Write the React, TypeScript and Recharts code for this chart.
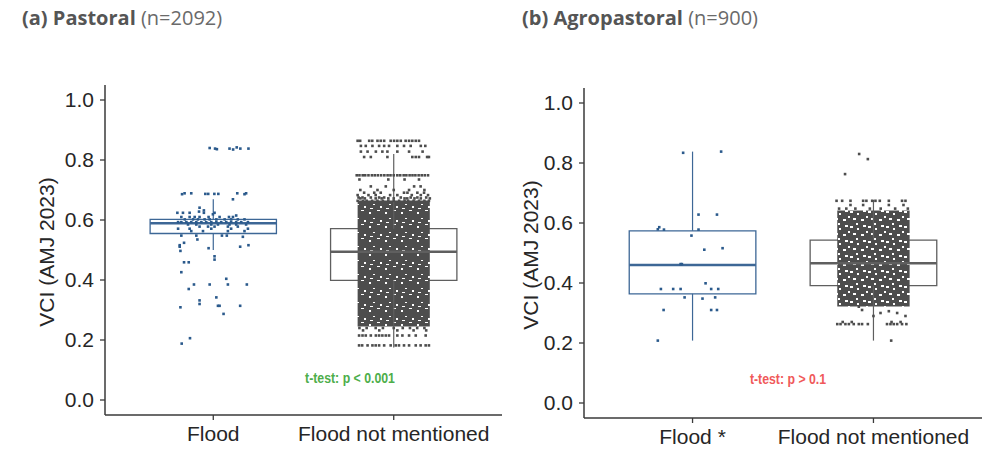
import React from 'react';
import { ComposedChart, Scatter, XAxis, YAxis, ReferenceArea, ReferenceLine } from 'recharts';

const labelsA = ['Flood', 'Flood not mentioned'];
const labelsB = ['Flood *', 'Flood not mentioned'];
const yTicks = [0, 0.2, 0.4, 0.6, 0.8, 1.0];

// box stats: [lower whisker, Q1, median, Q3, upper whisker]
const pastoralFloodBox = [0.5, 0.555, 0.589, 0.602, 0.669];
const pastoralOtherBox = [0.175, 0.399, 0.494, 0.571, 0.82];
const agroFloodBox = [0.208, 0.364, 0.46, 0.574, 0.838];
const agroOtherBox = [0.208, 0.391, 0.466, 0.543, 0.677];

// jittered points: [offset from category, VCI]
const pastoralFloodPts = [
  [-0.02, 0.84], [0.01, 0.838], [0.02, 0.836], [0.09, 0.838], [0.11, 0.835], [0.13, 0.842], [0.15, 0.838], [0.195, 0.838],
  [-0.173, 0.686], [-0.159, 0.689], [-0.122, 0.689], [-0.044, 0.687], [-0.028, 0.687], [0.006, 0.687], [0.028, 0.687],
  [0.109, 0.669], [0.133, 0.689], [0.173, 0.686], [0.182, 0.689],
  [-0.076, 0.641], [-0.052, 0.632], [-0.079, 0.628],
  [-0.199, 0.624], [-0.168, 0.624], [-0.131, 0.624], [-0.052, 0.624], [0.007, 0.624],
  [-0.002, 0.619], [0.127, 0.615],
  [-0.177, 0.61], [-0.131, 0.61], [-0.103, 0.61], [-0.076, 0.61], [-0.026, 0.61], [0.035, 0.61], [0.087, 0.61], [0.109, 0.61],
  [-0.158, 0.602], [-0.112, 0.602], [-0.085, 0.602], [-0.048, 0.602], [-0.02, 0.602], [0.017, 0.602], [0.063, 0.602],
  [0.099, 0.602], [0.136, 0.602], [0.173, 0.602],
  [-0.195, 0.593], [-0.177, 0.593], [-0.149, 0.593], [-0.122, 0.593], [-0.094, 0.593], [-0.066, 0.593], [-0.039, 0.593],
  [-0.011, 0.593], [0.017, 0.593], [0.044, 0.593], [0.072, 0.593], [0.099, 0.593], [0.127, 0.593], [0.155, 0.593], [0.192, 0.593],
  [-0.14, 0.585], [-0.094, 0.585], [-0.011, 0.585], [0.026, 0.585], [0.09, 0.585], [0.127, 0.585], [0.182, 0.585],
  [-0.076, 0.578], [-0.029, 0.578], [0.007, 0.578], [0.081, 0.578], [0.136, 0.578],
  [-0.195, 0.571], [-0.131, 0.571], [-0.011, 0.571], [0.099, 0.571], [0.192, 0.571],
  [-0.122, 0.563], [-0.057, 0.563], [0.081, 0.563], [0.173, 0.563],
  [-0.177, 0.548], [-0.094, 0.548], [0.048, 0.548], [0.075, 0.548], [0.164, 0.544],
  [-0.088, 0.535], [-0.162, 0.524], [-0.186, 0.516], [0.195, 0.516], [-0.186, 0.511], [0.149, 0.511],
  [-0.026, 0.506], [-0.182, 0.497], [0.007, 0.479], [0.007, 0.468], [-0.162, 0.459], [-0.136, 0.459],
  [-0.177, 0.426], [0.072, 0.404], [-0.107, 0.385], [-0.02, 0.385], [0.081, 0.385], [0.186, 0.385],
  [-0.136, 0.37], [0.017, 0.342], [-0.076, 0.332], [-0.076, 0.32], [0.026, 0.314], [0.035, 0.314], [0.149, 0.314],
  [-0.182, 0.309], [0.057, 0.287], [-0.129, 0.206], [-0.175, 0.188],
];

const pastoralOtherPts = [
  [-0.2, 0.864], [-0.186, 0.864], [-0.136, 0.864], [-0.119, 0.864], [-0.09, 0.864], [-0.072, 0.864], [-0.053, 0.864],
  [-0.017, 0.864], [0.002, 0.864], [0.02, 0.864], [0.039, 0.864], [0.066, 0.864], [0.085, 0.864], [0.103, 0.864], [0.122, 0.864], [0.14, 0.864],
  [-0.182, 0.847], [-0.155, 0.847], [-0.118, 0.847], [-0.081, 0.847], [-0.053, 0.847], [-0.026, 0.847], [0.02, 0.847],
  [0.057, 0.847], [0.094, 0.847], [0.15, 0.847], [0.175, 0.847],
  [-0.182, 0.828], [-0.145, 0.828], [-0.099, 0.828], [-0.063, 0.828], [-0.035, 0.828], [0.02, 0.828], [0.085, 0.828], [0.16, 0.828],
  [-0.164, 0.81], [-0.127, 0.81], [-0.035, 0.81], [0.103, 0.81], [0.122, 0.81], [0.14, 0.81], [0.185, 0.81], [0.195, 0.81],
  [-0.205, 0.749], [-0.19, 0.749], [-0.172, 0.749], [-0.158, 0.749], [-0.14, 0.749], [-0.121, 0.749], [-0.105, 0.749],
  [-0.088, 0.749], [-0.07, 0.749], [-0.052, 0.749], [-0.034, 0.749], [-0.018, 0.749], [0.0, 0.749], [0.02, 0.749],
  [0.036, 0.749], [0.055, 0.749], [0.07, 0.749], [0.088, 0.749], [0.104, 0.749], [0.12, 0.749], [0.138, 0.749],
  [0.155, 0.749], [0.172, 0.749], [0.19, 0.749],
  [-0.19, 0.735], [-0.03, 0.735], [0.06, 0.735], [0.14, 0.735],
  [-0.127, 0.712], [-0.044, 0.712], [0.113, 0.712], [0.149, 0.712],
  [-0.185, 0.7], [-0.09, 0.7], [0.0, 0.7], [0.085, 0.7], [0.17, 0.7],
  [-0.164, 0.691], [-0.108, 0.691], [-0.072, 0.691], [0.057, 0.691], [0.076, 0.691], [0.131, 0.691], [0.168, 0.691],
  [-0.2, 0.683], [-0.14, 0.683], [-0.1, 0.683], [-0.02, 0.683], [0.02, 0.683], [0.1, 0.683], [0.15, 0.683], [0.19, 0.683],
  [-0.195, 0.675], [-0.173, 0.675], [-0.127, 0.675], [-0.081, 0.675], [-0.053, 0.675], [0.039, 0.675], [0.094, 0.675], [0.131, 0.675], [0.18, 0.675],
  [-0.185, 0.672], [-0.16, 0.672], [-0.1, 0.672], [-0.067, 0.672], [-0.03, 0.672], [0.0, 0.672], [0.06, 0.672],
  [0.075, 0.672], [0.115, 0.672], [0.15, 0.672], [0.2, 0.672],
  [-0.2, 0.664], [-0.17, 0.664], [-0.15, 0.664], [-0.12, 0.664], [-0.09, 0.664], [-0.06, 0.664], [-0.03, 0.664], [0.0, 0.664],
  [0.03, 0.664], [0.06, 0.664], [0.08, 0.664], [0.11, 0.664], [0.14, 0.664], [0.17, 0.664], [0.195, 0.664],
  [-0.19, 0.24], [-0.15, 0.24], [-0.1, 0.24], [-0.06, 0.24], [0.0, 0.24], [0.05, 0.24], [0.09, 0.24], [0.13, 0.24], [0.17, 0.24],
  [-0.17, 0.232], [-0.08, 0.232], [0.02, 0.232], [0.11, 0.232], [0.18, 0.232],
  [-0.192, 0.215], [-0.173, 0.215], [-0.155, 0.215], [-0.127, 0.215], [-0.099, 0.215], [-0.081, 0.215], [-0.063, 0.215],
  [-0.044, 0.215], [-0.026, 0.215], [0.02, 0.215], [0.048, 0.215], [0.085, 0.215], [0.122, 0.215], [0.177, 0.215],
  [-0.192, 0.182], [-0.175, 0.182], [-0.145, 0.182], [-0.118, 0.182], [-0.1, 0.182], [-0.081, 0.182], [-0.053, 0.182],
  [-0.017, 0.182], [0.011, 0.182], [0.029, 0.182], [0.057, 0.182], [0.085, 0.182], [0.122, 0.182], [0.149, 0.182], [0.177, 0.182], [0.195, 0.182],
];

// where the jittered cloud is packed solid: [from, to]
const pastoralOtherCore = [[0.245, 0.665]];

const agroFloodPts = [
  [-0.052, 0.834], [0.158, 0.838], [0.033, 0.628], [0.135, 0.628],
  [-0.184, 0.586], [-0.192, 0.579], [-0.158, 0.578], [0.033, 0.578], [-0.006, 0.558],
  [0.065, 0.511], [0.166, 0.516], [-0.066, 0.463], [-0.059, 0.463], [0.072, 0.399],
  [-0.175, 0.38], [-0.107, 0.38], [-0.066, 0.38], [0.103, 0.38], [0.142, 0.38],
  [-0.044, 0.352], [0.055, 0.348], [0.125, 0.352],
  [-0.16, 0.31], [0.103, 0.31], [0.135, 0.31], [-0.192, 0.208],
];

const agroOtherPts = [
  [-0.079, 0.83], [-0.031, 0.813], [-0.157, 0.763],
  [-0.204, 0.674], [-0.173, 0.674], [-0.127, 0.674], [-0.057, 0.674], [-0.039, 0.674], [-0.007, 0.674],
  [0.011, 0.674], [0.035, 0.674], [0.085, 0.674], [0.158, 0.674], [0.177, 0.674],
  [-0.127, 0.66], [-0.057, 0.66], [0.085, 0.66], [0.166, 0.66],
  [-0.19, 0.648], [-0.15, 0.648], [-0.1, 0.648], [-0.02, 0.648], [0.04, 0.648], [0.12, 0.648], [0.19, 0.648],
  [-0.081, 0.321], [-0.063, 0.31], [0.039, 0.3], [0.085, 0.306], [0.131, 0.3], [0.177, 0.29], [0.0, 0.29],
  [-0.17, 0.27], [-0.12, 0.27], [0.1, 0.27], [0.15, 0.27],
  [-0.2, 0.263], [-0.182, 0.263], [-0.155, 0.263], [-0.136, 0.263], [-0.109, 0.263], [-0.081, 0.263], [-0.063, 0.263],
  [-0.031, 0.263], [0.075, 0.263], [0.094, 0.263], [0.112, 0.263], [0.131, 0.263], [0.158, 0.263], [0.182, 0.263],
  [0.098, 0.208],
];

const agroOtherCore = [[0.322, 0.642]];

const BLUE_PT = '#2b5a8c';
const BLUE_BOX = '#3d6796';
const GREY_PT = '#4d4d4d';
const GREY_BOX = '#5f5f5f';
const AXIS = '#3a3a3a';
const JITTER = 0.2;

// small white gaps between packed points, per panel: tile size, then gaps
const speckDense = { w: 16, h: 14, gaps: [[1, 2, 2, 2], [9, 0, 3, 1], [5, 8, 2, 1], [12, 10, 2, 2], [2, 12, 3, 1]] };
const speckLoose = {
  w: 18,
  h: 15,
  gaps: [[0, 1, 3, 2], [7, 3, 2, 2], [13, 0, 3, 2], [3, 8, 3, 2], [11, 9, 3, 2], [16, 6, 2, 2], [6, 13, 2, 2]],
};

const square = (color: string) => (props: any) => {
  const { cx, cy } = props;
  if (cx == null || cy == null) return <g />;
  return <rect x={cx - 1.3} y={cy - 1.3} width={2.6} height={2.6} fill={color} />;
};

const toPoints = (pts: number[][], cat: number) => pts.map(([dx, y]) => ({ x: cat + dx, y }));

function boxParts(stats: number[], cat: number, color: string, key: string) {
  const [lo, q1, med, q3, hi] = stats;
  return [
    <ReferenceLine key={key + 'w1'} segment={[{ x: cat, y: q3 }, { x: cat, y: hi }]} stroke={color} strokeWidth={1.2} />,
    <ReferenceLine key={key + 'w2'} segment={[{ x: cat, y: lo }, { x: cat, y: q1 }]} stroke={color} strokeWidth={1.2} />,
    <ReferenceArea key={key + 'b'} x1={cat - 0.35} x2={cat + 0.35} y1={q1} y2={q3} fill="none" stroke={color} strokeWidth={1.3} />,
    <ReferenceLine key={key + 'm'} segment={[{ x: cat - 0.35, y: med }, { x: cat + 0.35, y: med }]} stroke={color} strokeWidth={2.4} />,
  ];
}

function coreParts(bands: number[][], cat: number, fill: string, key: string) {
  return bands.map(([y1, y2], i) => (
    <ReferenceArea key={key + i} x1={cat - JITTER} x2={cat + JITTER} y1={y1} y2={y2} fill={fill} fillOpacity={1} stroke="none" />
  ));
}

const tickStyle = { fontFamily: "'Liberation Sans', Arial, sans-serif", fontSize: 21, fill: '#262626' };

function Panel(props: any) {
  const { id, width, height, margin, xHeight, labels, floodBox, otherBox, floodPts, otherPts, otherCore, specks } = props;
  return (
    <ComposedChart width={width} height={height} margin={margin}>
      <defs>
        <pattern id={id} width={specks.w} height={specks.h} patternUnits="userSpaceOnUse">
          <rect x={0} y={0} width={specks.w} height={specks.h} fill={GREY_PT} />
          {specks.gaps.map(([x, y, w, h]: number[], i: number) => (
            <rect key={i} x={x} y={y} width={w} height={h} fill="#fff" />
          ))}
        </pattern>
      </defs>
      <XAxis
        type="number"
        dataKey="x"
        domain={[0.4, 2.6]}
        ticks={[1, 2]}
        tickFormatter={(v: number) => labels[v - 1]}
        height={xHeight}
        tick={tickStyle}
        tickSize={5}
        tickMargin={6}
        axisLine={{ stroke: AXIS, strokeWidth: 1.5 }}
        tickLine={{ stroke: AXIS, strokeWidth: 1.3 }}
        allowDataOverflow
      />
      <YAxis
        type="number"
        dataKey="y"
        domain={[-0.05, 1.05]}
        ticks={yTicks}
        tickFormatter={(v: number) => v.toFixed(1)}
        width={60}
        tick={tickStyle}
        tickSize={5}
        tickMargin={6}
        axisLine={{ stroke: AXIS, strokeWidth: 1.5 }}
        tickLine={{ stroke: AXIS, strokeWidth: 1.3 }}
        allowDataOverflow
      />
      {boxParts(floodBox, 1, BLUE_BOX, 'f')}
      {boxParts(otherBox, 2, GREY_BOX, 'o')}
      {coreParts(otherCore, 2, `url(#${id})`, 'c')}
      <Scatter data={toPoints(floodPts, 1)} shape={square(BLUE_PT)} isAnimationActive={false} />
      <Scatter data={toPoints(otherPts, 2)} shape={square(GREY_PT)} isAnimationActive={false} />
    </ComposedChart>
  );
}

const titleStyle: React.CSSProperties = {
  position: 'absolute',
  fontFamily: "'Open Sans', 'Noto Sans', sans-serif",
  fontSize: 20,
  color: '#555',
  whiteSpace: 'nowrap',
};

const yTitleStyle: React.CSSProperties = {
  position: 'absolute',
  fontFamily: "'Liberation Sans', Arial, sans-serif",
  fontSize: 21,
  color: '#262626',
  whiteSpace: 'nowrap',
  transform: 'translate(-50%, -50%) rotate(-90deg)',
};

const testStyle: React.CSSProperties = {
  position: 'absolute',
  fontFamily: "'Liberation Sans', Arial, sans-serif",
  fontWeight: 700,
  fontSize: 15,
  whiteSpace: 'nowrap',
  transform: 'translate(-50%, -50%) scaleX(0.82)',
};

export default function App() {
  return (
    <div style={{ position: 'absolute', left: 0, top: 0, width: 984, height: 451, background: '#fff', overflow: 'hidden' }}>
      <div style={{ ...titleStyle, left: 22, top: 4 }}>
        <b>(a) Pastoral</b> <span style={{ color: '#6a6a6a' }}>(n=2092)</span>
      </div>
      <div style={{ ...titleStyle, left: 522, top: 4 }}>
        <b>(b) Agropastoral</b> <span style={{ color: '#6a6a6a' }}>(n=900)</span>
      </div>

      <div style={{ position: 'absolute', left: 0, top: 0 }}>
        <Panel
          id="cloudA"
          width={510}
          height={451}
          margin={{ top: 85, right: 8, bottom: 0, left: 45 }}
          xHeight={36}
          labels={labelsA}
          floodBox={pastoralFloodBox}
          otherBox={pastoralOtherBox}
          floodPts={pastoralFloodPts}
          otherPts={pastoralOtherPts}
          otherCore={pastoralOtherCore}
          specks={speckDense}
        />
      </div>
      <div style={{ position: 'absolute', left: 490, top: 0 }}>
        <Panel
          id="cloudB"
          width={494}
          height={451}
          margin={{ top: 88, right: 2, bottom: 0, left: 34 }}
          xHeight={33}
          labels={labelsB}
          floodBox={agroFloodBox}
          otherBox={agroOtherBox}
          floodPts={agroFloodPts}
          otherPts={agroOtherPts}
          otherCore={agroOtherCore}
          specks={speckLoose}
        />
      </div>

      <div style={{ ...yTitleStyle, left: 47, top: 252 }}>VCI (AMJ 2023)</div>
      <div style={{ ...yTitleStyle, left: 531, top: 255 }}>VCI (AMJ 2023)</div>

      <div style={{ ...testStyle, left: 350, top: 377, color: '#4dae4a' }}>t-test: p &lt; 0.001</div>
      <div style={{ ...testStyle, left: 788, top: 378, color: '#f0595a' }}>t-test: p &gt; 0.1</div>
    </div>
  );
}
